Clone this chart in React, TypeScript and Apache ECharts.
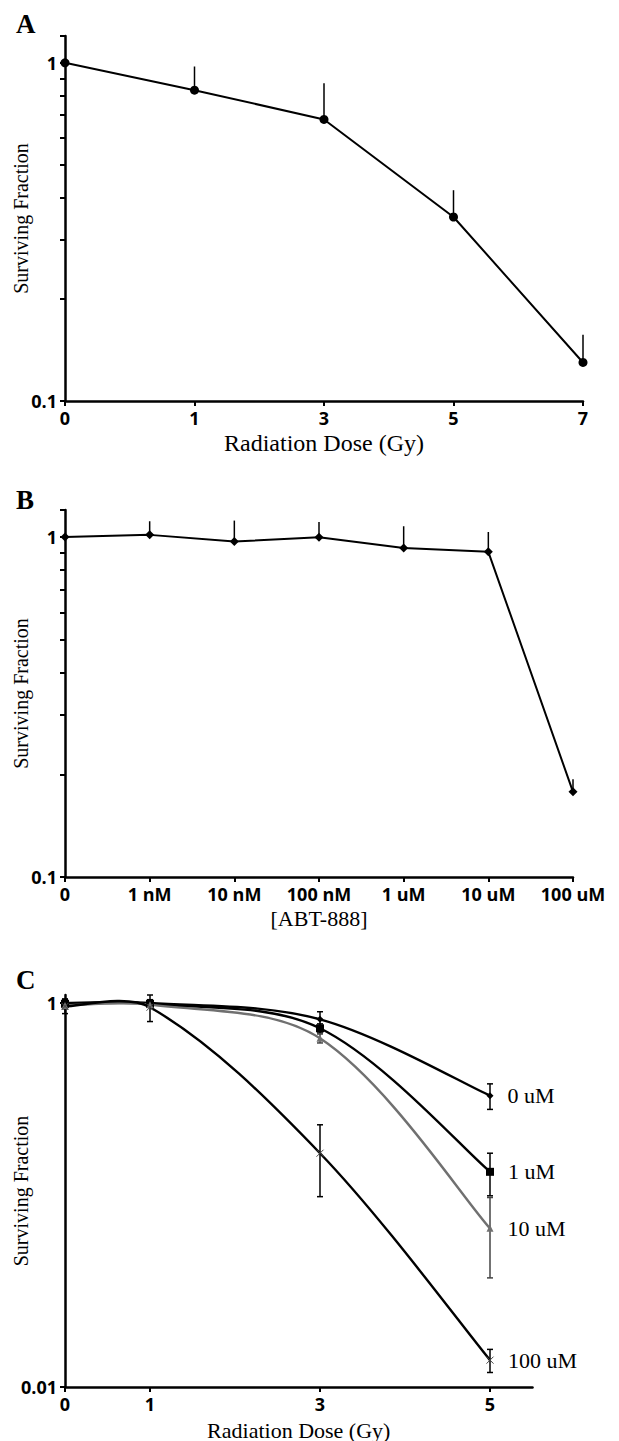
import React, { useEffect, useRef } from 'react';
import * as echarts from 'echarts';

// ---------- Data ----------
const doseA = ['0', '1', '3', '5', '7'];
const survA = [1.0, 0.83, 0.68, 0.35, 0.13];
const errA = [0, 0.145, 0.19, 0.07, 0.027];

const concB = ['0', '1 nM', '10 nM', '100 nM', '1 uM', '10 uM', '100 uM'];
const survB = [1.0, 1.014, 0.969, 0.998, 0.928, 0.904, 0.178];
const errB = [0, 0.098, 0.148, 0.109, 0.147, 0.13, 0.016];

const doseC = [0, 1, 3, 5];
const doseCTicks = [0, 1, 3, 5];
const namesC = ['0 uM', '1 uM', '10 uM', '100 uM'];
const surv0 = [1.0, 1.0, 0.822, 0.329];
const err0 = [0.05, 0.04, 0.078, 0.05];
const surv1 = [0.99, 0.99, 0.738, 0.132];
const err1 = [0.04, 0.03, 0.04, 0.033];
const surv10 = [0.97, 0.98, 0.654, 0.067];
const err10 = [0.04, 0.03, 0.035, 0.03];
const surv100 = [0.96, 0.95, 0.165, 0.0138];
const err100 = [0.08, 0.15, 0.067, 0.0019];

const yTicksAB = [0.1, 0.2, 0.3, 0.4, 0.5, 0.6, 0.7, 0.8, 0.9, 1, 1.2];
const yLabelsAB = [0.1, 1];
const yTicksC = [0.01, 1];
const yLabelsC = [0.01, 1];

const SANS = "'Open Sans', 'DejaVu Sans', sans-serif";
const SERIF = "'Liberation Serif', 'DejaVu Serif', serif";

function fmtLog(v: number, labels: number[]): string {
  const l = Math.log10(v);
  const hit = labels.find((x) => Math.abs(Math.log10(x) - l) < 1e-6);
  if (hit === undefined) return '';
  return hit >= 1 ? String(hit) : hit.toFixed(Math.round(-Math.log10(hit)));
}

function logAxis(gridIndex: number, min: number, max: number, labels: number[], nameGap: number, nameSize: number) {
  return {
    type: 'log',
    logBase: 10,
    gridIndex,
    min,
    max,
    position: 'left',
    axisLine: { show: true, onZero: false, lineStyle: { color: '#000', width: 2.5 } },
    axisTick: { show: false },
    minorTick: { show: false },
    splitLine: { show: false },
    axisLabel: {
      margin: 8,
      fontFamily: SANS,
      fontWeight: 'bold',
      fontSize: 18,
      color: '#000',
      formatter: (v: number) => fmtLog(v, labels),
    },
    name: 'Surviving Fraction',
    nameLocation: 'middle',
    nameGap,
    nameMoveOverlap: false,
    nameTextStyle: { fontFamily: SERIF, fontSize: nameSize, color: '#000' },
  };
}

function tickAxis(gridIndex: number, min: number, max: number, ticks: number[]) {
  return {
    type: 'value',
    gridIndex,
    min: Math.log10(min),
    max: Math.log10(max),
    position: 'left',
    axisLine: { show: false, onZero: false },
    axisLabel: { show: false },
    splitLine: { show: false },
    axisTick: {
      show: true,
      inside: false,
      length: 5,
      customValues: ticks.map((t) => Math.log10(t)),
      lineStyle: { color: '#000', width: 2 },
    },
  };
}

const xLabelStyle = {
  interval: 0,
  margin: 8,
  fontFamily: SANS,
  fontWeight: 'bold',
  fontSize: 18,
  color: '#000',
};

function upBar(params: any, api: any) {
  const s = api.coord([api.value(0), api.value(1)]);
  const e = api.coord([api.value(0), api.value(2)]);
  return {
    type: 'line',
    shape: { x1: s[0], y1: s[1], x2: e[0], y2: e[1] },
    style: { stroke: '#000', lineWidth: 1.5 },
  };
}

function capBar(color: string) {
  return (params: any, api: any) => {
    const lo = api.coord([api.value(0), api.value(1)]);
    const hi = api.coord([api.value(0), api.value(2)]);
    const h = 3;
    const style = { stroke: color, lineWidth: 1.5 };
    return {
      type: 'group',
      children: [
        { type: 'line', shape: { x1: lo[0], y1: lo[1], x2: hi[0], y2: hi[1] }, style },
        { type: 'line', shape: { x1: lo[0] - h, y1: lo[1], x2: lo[0] + h, y2: lo[1] }, style },
        { type: 'line', shape: { x1: hi[0] - h, y1: hi[1], x2: hi[0] + h, y2: hi[1] }, style },
      ],
    };
  };
}

// Smooth curve through the data points (chord-length scaled Catmull-Rom), in pixel space
function smoothCurve(xs: number[], ys: number[], color: string, width: number) {
  return (params: any, api: any) => {
    if (params.dataIndex !== 0) return null;
    const pts = xs.map((x, i) => api.coord([x, ys[i]]));
    const n = pts.length;
    const dist = (a: number[], b: number[]) => Math.hypot(b[0] - a[0], b[1] - a[1]);
    // tangent handles: for point i, backward and forward control offsets
    const fwd: number[][] = [];
    const back: number[][] = [];
    for (let i = 0; i < n; i++) {
      const prev = pts[Math.max(i - 1, 0)];
      const next = pts[Math.min(i + 1, n - 1)];
      const m = [next[0] - prev[0], next[1] - prev[1]];
      const dPrev = i > 0 ? dist(pts[i - 1], pts[i]) : 0;
      const dNext = i < n - 1 ? dist(pts[i], pts[i + 1]) : 0;
      const tot = dPrev + dNext || 1;
      const kf = i === 0 || i === n - 1 ? 1 / 3 : dNext / tot / 1.5;
      const kb = i === 0 || i === n - 1 ? 1 / 3 : dPrev / tot / 1.5;
      fwd.push([pts[i][0] + m[0] * kf * 0.5, pts[i][1] + m[1] * kf * 0.5]);
      back.push([pts[i][0] - m[0] * kb * 0.5, pts[i][1] - m[1] * kb * 0.5]);
    }
    const children: any[] = [];
    for (let i = 0; i < n - 1; i++) {
      children.push({
        type: 'bezierCurve',
        shape: {
          x1: pts[i][0],
          y1: pts[i][1],
          x2: pts[i + 1][0],
          y2: pts[i + 1][1],
          cpx1: fwd[i][0],
          cpy1: fwd[i][1],
          cpx2: back[i + 1][0],
          cpy2: back[i + 1][1],
        },
        style: { stroke: color, lineWidth: width, fill: null },
      });
    }
    return { type: 'group', children };
  };
}

const seriesC = [
  { name: namesC[0], surv: surv0, err: err0, color: '#000', symbol: 'diamond', size: 7 },
  { name: namesC[1], surv: surv1, err: err1, color: '#000', symbol: 'rect', size: 8 },
  { name: namesC[2], surv: surv10, err: err10, color: '#707070', symbol: 'triangle', size: 7 },
  { name: namesC[3], surv: surv100, err: err100, color: '#000', symbol: 'path://M0,0L10,10M10,0L0,10', size: 7 },
];

export default function App() {
  const ref = useRef<HTMLDivElement>(null);
  useEffect(() => {
    document.body.style.margin = '0';
    if (!ref.current) return;
    const chart = echarts.init(ref.current, undefined, { renderer: 'svg' });

    const cSeries: any[] = [];
    seriesC.forEach((s, k) => {
      cSeries.push({
        type: 'custom',
        name: s.name + ' curve',
        xAxisIndex: 2,
        yAxisIndex: 4,
        data: doseC.map((d, i) => [d, s.surv[i]]),
        renderItem: smoothCurve(doseC, s.surv, s.color, 2.4),
        z: 2,
      });
      cSeries.push({
        type: 'custom',
        name: s.name + ' err',
        xAxisIndex: 2,
        yAxisIndex: 4,
        data: doseC.map((d, i) => [d, s.surv[i] - s.err[i], s.surv[i] + s.err[i]]),
        renderItem: capBar(k === 2 ? '#444' : '#000'),
        z: 3,
      });
      const isX = k === 3;
      const last = doseC.length - 1;
      cSeries.push({
        type: 'line',
        name: s.name,
        xAxisIndex: 2,
        yAxisIndex: 4,
        data: doseC.map((d, i) =>
          i === last
            ? {
                value: [d, s.surv[i]],
                label: {
                  show: true,
                  position: 'right',
                  distance: 14,
                  formatter: s.name,
                  fontFamily: SERIF,
                  fontSize: 22,
                  color: '#000',
                },
              }
            : [d, s.surv[i]]
        ),
        symbol: s.symbol,
        symbolSize: s.size,
        showSymbol: true,
        lineStyle: { width: 0, opacity: 0 },
        itemStyle: isX
          ? { color: 'rgba(0,0,0,0)', borderColor: '#444', borderWidth: 1 }
          : { color: s.color },
        z: 4,
      });
    });

    const option: any = {
      animation: false,
      backgroundColor: '#fff',
      grid: [
        { left: 65, top: 36, width: 518, height: 365, outerBoundsMode: 'none', containLabel: false },
        { left: 65, top: 510, width: 508, height: 367, outerBoundsMode: 'none', containLabel: false },
        { left: 65, top: 995, width: 467.5, height: 392, outerBoundsMode: 'none', containLabel: false },
      ],
      xAxis: [
        {
          type: 'category',
          gridIndex: 0,
          data: doseA,
          boundaryGap: false,
          axisLine: { onZero: false, lineStyle: { color: '#000', width: 2.5 } },
          axisTick: { show: true, length: 5, lineStyle: { color: '#000', width: 2 } },
          axisLabel: xLabelStyle,
          splitLine: { show: false },
          name: 'Radiation Dose (Gy)',
          nameLocation: 'middle',
          nameGap: 30,
          nameMoveOverlap: false,
          nameTextStyle: { fontFamily: SERIF, fontSize: 24, color: '#000' },
        },
        {
          type: 'category',
          gridIndex: 1,
          data: concB,
          boundaryGap: false,
          axisLine: { onZero: false, lineStyle: { color: '#000', width: 2.5 } },
          axisTick: { show: true, length: 5, lineStyle: { color: '#000', width: 2 } },
          axisLabel: xLabelStyle,
          splitLine: { show: false },
          name: '[ABT-888]',
          nameLocation: 'middle',
          nameGap: 30,
          nameMoveOverlap: false,
          nameTextStyle: { fontFamily: SERIF, fontSize: 22, color: '#000' },
        },
        {
          type: 'value',
          gridIndex: 2,
          min: 0,
          max: 5.5,
          axisLine: { onZero: false, lineStyle: { color: '#000', width: 2.5 } },
          axisTick: { show: true, length: 5, customValues: doseCTicks, lineStyle: { color: '#000', width: 2 } },
          axisLabel: { ...xLabelStyle, customValues: doseCTicks },
          splitLine: { show: false },
          name: 'Radiation Dose (Gy)',
          nameLocation: 'middle',
          nameGap: 32,
          nameMoveOverlap: false,
          nameTextStyle: { fontFamily: SERIF, fontSize: 22, color: '#000' },
        },
      ],
      yAxis: [
        logAxis(0, 0.1, 1.2, yLabelsAB, 34, 20),
        tickAxis(0, 0.1, 1.2, yTicksAB),
        logAxis(1, 0.1, 1.2, yLabelsAB, 34, 20),
        tickAxis(1, 0.1, 1.2, yTicksAB),
        logAxis(2, 0.01, 1.1, yLabelsC, 34, 20),
        tickAxis(2, 0.01, 1.1, yTicksC),
      ],
      graphic: [
        { type: 'text', left: 16, top: 10, style: { text: 'A', fontFamily: SERIF, fontWeight: 'bold', fontSize: 27, fill: '#000' } },
        { type: 'text', left: 16, top: 486, style: { text: 'B', fontFamily: SERIF, fontWeight: 'bold', fontSize: 27, fill: '#000' } },
        { type: 'text', left: 16, top: 966, style: { text: 'C', fontFamily: SERIF, fontWeight: 'bold', fontSize: 27, fill: '#000' } },
      ],
      series: [
        {
          type: 'custom',
          xAxisIndex: 0,
          yAxisIndex: 0,
          data: survA.map((v, i) => [i, v, v + errA[i]]),
          renderItem: upBar,
          z: 2,
        },
        {
          type: 'line',
          xAxisIndex: 0,
          yAxisIndex: 0,
          data: survA,
          symbol: 'circle',
          symbolSize: 9,
          lineStyle: { color: '#000', width: 2 },
          itemStyle: { color: '#000' },
          z: 3,
        },
        {
          type: 'custom',
          xAxisIndex: 1,
          yAxisIndex: 2,
          data: survB.map((v, i) => [i, v, v + errB[i]]),
          renderItem: upBar,
          z: 2,
        },
        {
          type: 'line',
          xAxisIndex: 1,
          yAxisIndex: 2,
          data: survB,
          symbol: 'diamond',
          symbolSize: 9,
          lineStyle: { color: '#000', width: 2 },
          itemStyle: { color: '#000' },
          z: 3,
        },
        ...cSeries,
      ],
    };
    chart.setOption(option);
    return () => chart.dispose();
  }, []);
  return <div ref={ref} style={{ width: 619, height: 1441 }} />;
}
